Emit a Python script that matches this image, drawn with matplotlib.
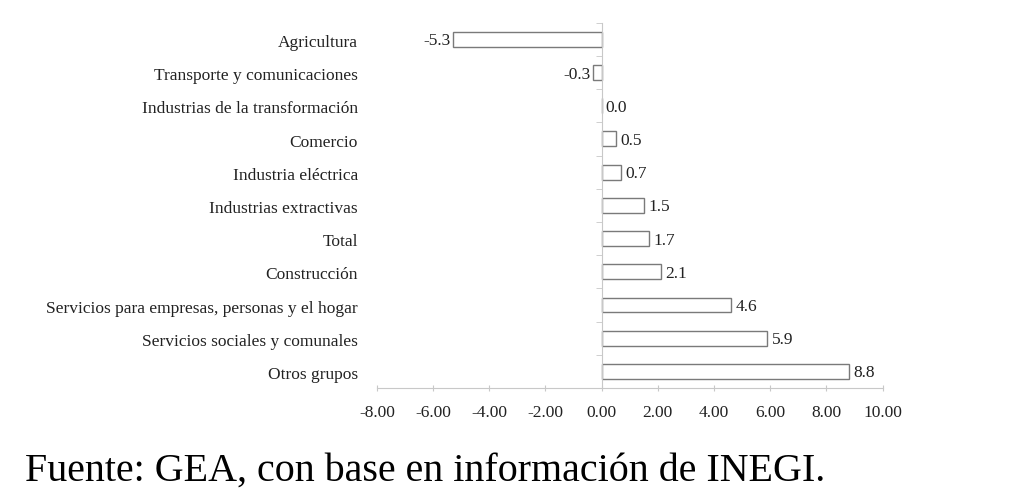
import matplotlib
matplotlib.use("Agg")
from matplotlib import pyplot as plt
import numpy as np

categories = ['Agricultura', 'Transporte y comunicaciones', 'Industrias de la transformación',
              'Comercio', 'Industria eléctrica', 'Industrias extractivas', 'Total', 'Construcción',
              'Servicios para empresas, personas y el hogar', 'Servicios sociales y comunales',
              'Otros grupos']
values = [-5.3, -0.3, 0.0, 0.5, 0.7, 1.5, 1.7, 2.1, 4.6, 5.9, 8.8]
x_ticks = [-8, -6, -4, -2, 0, 2, 4, 6, 8, 10]
source = 'Fuente: GEA, con base en información de INEGI.'

plt.rcParams['font.family'] = ['Liberation Serif', 'DejaVu Serif']

fig = plt.figure(figsize=(10.24, 5), dpi=100)
ax = fig.add_axes([0.368, 0.224, 0.494, 0.7306])

y = np.arange(len(categories))
ax.barh(y, values, height=0.45, color='white', edgecolor='#7a7a7a', linewidth=1.0)

ax.set_xlim(-8, 10)
ax.set_ylim(len(categories) - 0.5, -0.5)

for sp in ['top', 'right']:
    ax.spines[sp].set_visible(False)
ax.spines['left'].set_position(('data', 0))
ax.spines['left'].set_color('#c8c8c8')
ax.spines['bottom'].set_color('#c8c8c8')

ax.set_yticks(y)
ax.set_yticklabels([])
ax.tick_params(axis='y', length=0)
ax.set_yticks(np.arange(len(categories) + 1) - 0.5, minor=True)
ax.tick_params(axis='y', which='minor', length=4, color='#c8c8c8', direction='out')

ax.set_xticks(x_ticks)
ax.set_xticklabels([f'{t:.2f}' for t in x_ticks])
ax.tick_params(axis='x', length=5, color='#c8c8c8', direction='inout', labelsize=12.5,
               labelcolor='#222222', pad=10)

for yi, name in zip(y, categories):
    ax.text(-0.037, yi + 0.05, name, transform=ax.get_yaxis_transform(), ha='right',
            va='center_baseline', fontsize=12.5, color='#222222')

for yi, v in zip(y, values):
    if v < 0:
        ax.text(v - 0.08, yi, f'{v:.1f}', ha='right', va='center_baseline', fontsize=12.5,
                color='#222222')
    else:
        ax.text(v + 0.15, yi, f'{v:.1f}', ha='left', va='center_baseline', fontsize=12.5,
                color='#222222')

fig.text(0.024, 0.058, source, fontsize=28.8, color='#000000', ha='left', va='center')

fig.savefig('out.png', dpi=100)
